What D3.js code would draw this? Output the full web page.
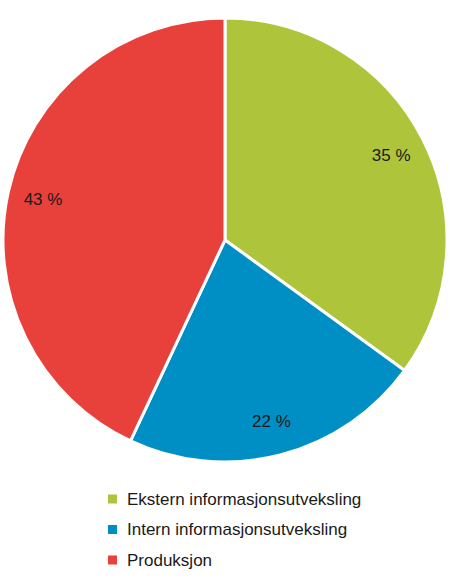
<!DOCTYPE html>
<html>
<head>
<meta charset="utf-8">
<script src="https://cdn.jsdelivr.net/npm/d3@7"></script>
<style>
  body { margin: 0; background: #fff; }
  text { font-family: "Liberation Sans", Arial, sans-serif; fill: #1a1a1a; }
</style>
</head>
<body>
<div class="chart"></div>
<script>
// data
var categories = ["Ekstern informasjonsutveksling", "Intern informasjonsutveksling", "Produksjon"];
var values = [35, 22, 43];
var labels = ["35 %", "22 %", "43 %"];
var colors = ["#aec43a", "#008fc5", "#e8403a"];

var svgWidth = 450, svgHeight = 585;
var cx = 225, cy = 240, radius = 222;

var svg = d3.select(".chart")
  .append("svg")
  .attr("width", svgWidth)
  .attr("height", svgHeight);

var pieGroup = svg.append("g")
  .attr("transform", `translate(${cx}, ${cy})`);

var pie = d3.pie().sort(null).value(d => d);
var arcs = pie(values);

var arc = d3.arc().innerRadius(0).outerRadius(radius);
var labelArc = d3.arc().innerRadius(radius * 0.84).outerRadius(radius * 0.84);

pieGroup.selectAll("path")
  .data(arcs)
  .enter()
  .append("path")
  .attr("d", arc)
  .attr("fill", (d, i) => colors[i])
  .attr("stroke", "#fff")
  .attr("stroke-width", 3)
  .attr("stroke-linejoin", "round");

pieGroup.selectAll(".slice-label")
  .data(arcs)
  .enter()
  .append("text")
  .attr("class", "slice-label")
  .attr("transform", d => `translate(${labelArc.centroid(d)})`)
  .attr("text-anchor", "middle")
  .attr("dy", "0.35em")
  .style("font-size", "17px")
  .text((d, i) => labels[i]);

// legend
var legend = svg.append("g")
  .attr("transform", "translate(108, 499)");

var rows = legend.selectAll("g")
  .data(categories)
  .enter()
  .append("g")
  .attr("transform", (d, i) => `translate(0, ${i * 30.5})`);

rows.append("rect")
  .attr("x", 0)
  .attr("y", -4.5)
  .attr("width", 9)
  .attr("height", 9)
  .attr("fill", (d, i) => colors[i]);

rows.append("text")
  .attr("x", 19)
  .attr("dy", "0.35em")
  .style("font-size", "17px")
  .text(d => d);
</script>
</body>
</html>
